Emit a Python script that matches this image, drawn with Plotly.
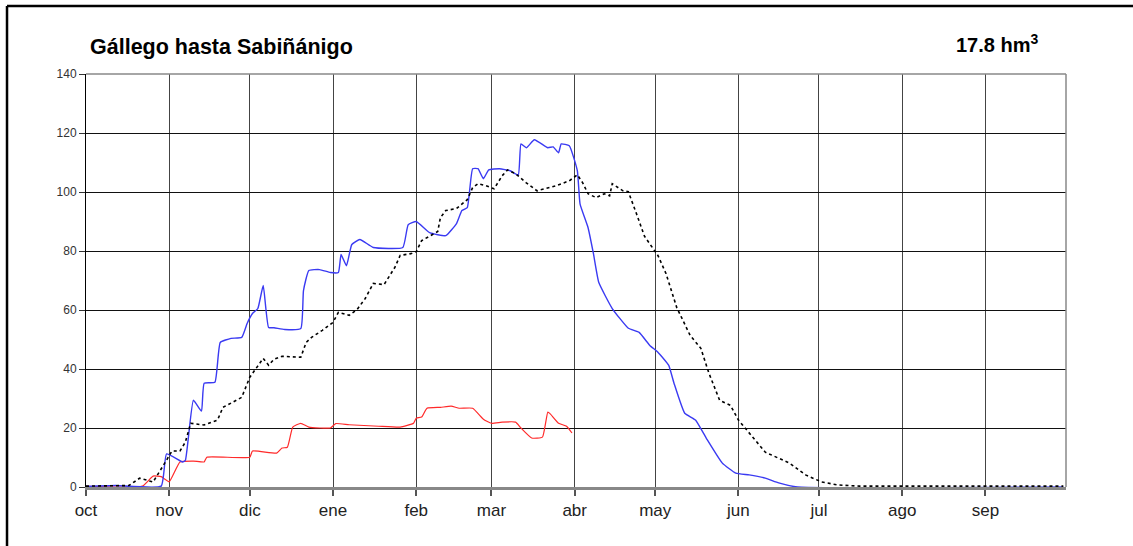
import plotly.graph_objects as go

# Curva azul (año hidrológico 2000-2001)
fechas_azul = ["2000-10-01", "2000-10-12", "2000-10-29", "2000-10-31", "2000-11-06", "2000-11-07",
               "2000-11-10", "2000-11-13", "2000-11-14", "2000-11-18", "2000-11-20", "2000-11-24",
               "2000-11-28", "2000-11-30", "2000-12-02", "2000-12-04", "2000-12-06", "2000-12-08",
               "2000-12-10", "2000-12-14", "2000-12-20", "2000-12-21", "2000-12-23", "2000-12-27",
               "2000-12-31", "2001-01-03", "2001-01-04", "2001-01-06", "2001-01-08", "2001-01-11",
               "2001-01-16", "2001-01-27", "2001-01-29", "2001-02-01", "2001-02-06", "2001-02-12",
               "2001-02-16", "2001-02-18", "2001-02-20", "2001-02-22", "2001-02-24", "2001-02-26",
               "2001-02-28", "2001-03-04", "2001-03-08", "2001-03-11", "2001-03-12", "2001-03-14",
               "2001-03-17", "2001-03-22", "2001-03-24", "2001-03-26", "2001-03-27", "2001-03-30",
               "2001-04-02", "2001-04-03", "2001-04-06", "2001-04-08", "2001-04-10", "2001-04-15",
               "2001-04-21", "2001-04-25", "2001-04-29", "2001-05-02", "2001-05-06", "2001-05-08",
               "2001-05-12", "2001-05-16", "2001-05-20", "2001-05-26", "2001-05-31", "2001-06-05",
               "2001-06-11", "2001-06-16", "2001-06-23", "2001-09-30"]
valores_azul = [0.2, 0.5, 0.3, 11.2, 8.5, 9.0,
                29.4, 25.7, 35.2, 35.5, 49.0, 50.4,
                50.7, 55.4, 58.8, 60.5, 68.3, 54.1,
                54.0, 53.4, 53.7, 66.6, 73.4, 73.7,
                72.7, 72.7, 78.8, 75.0, 82.2, 83.9,
                81.2, 81.2, 88.9, 90.0, 86.2, 85.2,
                89.3, 93.7, 94.7, 107.9, 107.9, 104.5,
                107.5, 107.9, 107.2, 105.8, 116.3, 115.0,
                117.7, 115.0, 115.3, 113.3, 116.3, 115.7,
                107.2, 96.0, 87.9, 79.1, 69.3, 60.5,
                53.8, 52.4, 48.0, 45.7, 41.3, 35.2,
                25.0, 22.7, 16.6, 8.1, 4.7, 4.1,
                3.0, 1.4, 0.0, 0.0]

# Curva de puntos negra
fechas_negra = ["2000-10-01", "2000-10-17", "2000-10-21", "2000-10-26", "2000-10-31", "2000-11-02",
                "2000-11-05", "2000-11-07", "2000-11-09", "2000-11-14", "2000-11-19", "2000-11-21",
                "2000-11-26", "2000-11-28", "2000-12-01", "2000-12-04", "2000-12-06", "2000-12-08",
                "2000-12-10", "2000-12-13", "2000-12-20", "2000-12-22", "2000-12-24", "2000-12-28",
                "2001-01-01", "2001-01-03", "2001-01-07", "2001-01-10", "2001-01-13", "2001-01-16",
                "2001-01-20", "2001-01-24", "2001-01-26", "2001-01-30", "2001-02-01", "2001-02-03",
                "2001-02-05", "2001-02-09", "2001-02-10", "2001-02-12", "2001-02-16", "2001-02-20",
                "2001-02-22", "2001-02-24", "2001-02-27", "2001-03-02", "2001-03-05", "2001-03-07",
                "2001-03-10", "2001-03-14", "2001-03-18", "2001-03-22", "2001-03-25", "2001-03-30",
                "2001-04-02", "2001-04-04", "2001-04-06", "2001-04-09", "2001-04-12", "2001-04-14",
                "2001-04-15", "2001-04-19", "2001-04-21", "2001-04-24", "2001-04-27", "2001-05-02",
                "2001-05-05", "2001-05-09", "2001-05-14", "2001-05-18", "2001-05-21", "2001-05-25",
                "2001-05-29", "2001-06-01", "2001-06-05", "2001-06-11", "2001-06-20", "2001-06-26",
                "2001-07-02", "2001-07-08", "2001-07-16", "2001-09-30"]
valores_negra = [0.3, 0.5, 3.0, 1.7, 9.1, 12.2,
                 12.2, 15.2, 21.6, 21.0, 22.7, 27.0,
                 29.4, 30.4, 37.2, 41.3, 43.6, 41.3,
                 43.3, 44.3, 44.0, 49.0, 50.7, 53.1,
                 55.8, 59.2, 58.2, 60.2, 63.9, 69.0,
                 68.6, 74.4, 78.5, 79.1, 79.8, 83.5,
                 84.5, 86.6, 91.3, 93.7, 94.4, 97.4,
                 101.5, 102.8, 102.1, 101.1, 105.5, 107.5,
                 106.2, 103.1, 100.4, 101.5, 102.1, 103.8,
                 105.8, 103.1, 99.4, 98.1, 99.4, 98.7,
                 102.8, 100.4, 100.1, 92.7, 85.0, 78.5,
                 72.4, 60.9, 51.4, 47.0, 38.6, 29.4,
                 27.7, 22.7, 18.3, 11.8, 8.1, 4.1,
                 1.7, 0.7, 0.3, 0.3]

# Curva roja (termina a finales de marzo)
fechas_roja = ["2000-10-01", "2000-10-22", "2000-10-26", "2000-10-29", "2000-11-01", "2000-11-05",
               "2000-11-10", "2000-11-14", "2000-11-15", "2000-12-01", "2000-12-02", "2000-12-11",
               "2000-12-13", "2000-12-15", "2000-12-17", "2000-12-20", "2000-12-23", "2000-12-31",
               "2001-01-02", "2001-01-07", "2001-01-18", "2001-01-26", "2001-01-31", "2001-02-01",
               "2001-02-03", "2001-02-05", "2001-02-10", "2001-02-14", "2001-02-17", "2001-02-22",
               "2001-02-26", "2001-03-01", "2001-03-05", "2001-03-10", "2001-03-12", "2001-03-16",
               "2001-03-20", "2001-03-22", "2001-03-23", "2001-03-26", "2001-03-29", "2001-03-31"]
valores_roja = [0.2, 0.3, 3.7, 3.5, 1.8, 8.5,
                8.8, 8.5, 10.1, 10.1, 12.2, 11.5,
                13.2, 13.5, 20.3, 21.6, 20.3, 20.0,
                21.5, 21.1, 20.6, 20.3, 21.6, 23.3,
                23.7, 26.7, 27.0, 27.4, 26.7, 26.7,
                23.0, 21.6, 22.0, 22.0, 20.0, 16.6,
                16.9, 25.4, 24.7, 21.6, 20.6, 18.3]

meses = ["2000-10-01", "2000-11-01", "2000-12-01", "2001-01-01", "2001-02-01", "2001-03-01",
         "2001-04-01", "2001-05-01", "2001-06-01", "2001-07-01", "2001-08-01", "2001-09-01"]
etiquetas_meses = ["oct", "nov", "dic", "ene", "feb", "mar", "abr", "may", "jun", "jul", "ago", "sep"]
ticks_y = [0, 20, 40, 60, 80, 100, 120, 140]

titulo = "Gállego hasta Sabiñánigo"
volumen = "17.8 hm<sup>3</sup>"

fuente = "Arial, Liberation Sans, sans-serif"

fig = go.Figure()

fig.add_trace(go.Scatter(x=fechas_roja, y=valores_roja, mode="lines",
                         line=dict(color="#ff2a2a", width=1.2, shape="spline", smoothing=0.4)))
fig.add_trace(go.Scatter(x=fechas_azul, y=valores_azul, mode="lines",
                         line=dict(color="#3a3af2", width=1.4, shape="spline", smoothing=0.4)))
fig.add_trace(go.Scatter(x=fechas_negra, y=valores_negra, mode="lines",
                         line=dict(color="black", width=1.6, dash="dot")))

fig.update_layout(
    width=1133, height=546,
    margin=dict(l=86, r=67, t=74, b=59),
    paper_bgcolor="white", plot_bgcolor="white",
    showlegend=False,
    font=dict(family=fuente, color="#222"),
)

fig.update_xaxes(
    type="date",
    range=["2000-10-01", "2001-10-01"],
    tickvals=meses, ticktext=etiquetas_meses,
    tickfont=dict(size=17, color="#222"),
    showgrid=True, gridcolor="#444", gridwidth=1.3,
    showline=True, linecolor="#888", linewidth=3,
    ticks="outside", ticklen=6, tickcolor="#555", tickwidth=1.5,
    zeroline=False,
)
fig.update_yaxes(
    range=[0, 140],
    tickvals=ticks_y,
    tickfont=dict(size=12, color="#333"),
    showgrid=True, gridcolor="#111", gridwidth=1,
    showline=True, linecolor="black", linewidth=1,
    ticks="outside", ticklen=6, tickcolor="#333",
    zeroline=False,
)

# Borde superior y derecho del área de trazado
fig.add_shape(type="line", xref="paper", yref="paper", x0=0, x1=1, y0=1, y1=1,
              line=dict(color="#888", width=1.5))
fig.add_shape(type="line", xref="paper", yref="paper", x0=1, x1=1, y0=0, y1=1,
              line=dict(color="#888", width=1.5))

# Marco negro de la imagen
fig.add_shape(type="line", xref="paper", yref="paper", x0=-0.0806, x1=1.08, y0=1.1646, y1=1.1646,
              line=dict(color="black", width=2.5))
fig.add_shape(type="line", xref="paper", yref="paper", x0=-0.0806, x1=-0.0806, y0=1.1646, y1=-0.2,
              line=dict(color="black", width=2.5))

fig.add_annotation(text=titulo, xref="paper", yref="paper", x=0.002, y=1.065,
                   xanchor="left", yanchor="middle", showarrow=False,
                   font=dict(size=21.5, family=fuente, color="black", weight="bold"))
fig.add_annotation(text=volumen, xref="paper", yref="paper", x=0.973, y=1.075,
                   xanchor="right", yanchor="middle", showarrow=False,
                   font=dict(size=20, family=fuente, color="black", weight="bold"))

# quitar el margen del body para que la figura empiece en (0, 0)
fig.write_html("out.html", config={"displayModeBar": False},
               post_script="document.body.style.margin='0';document.body.style.overflow='hidden';")
